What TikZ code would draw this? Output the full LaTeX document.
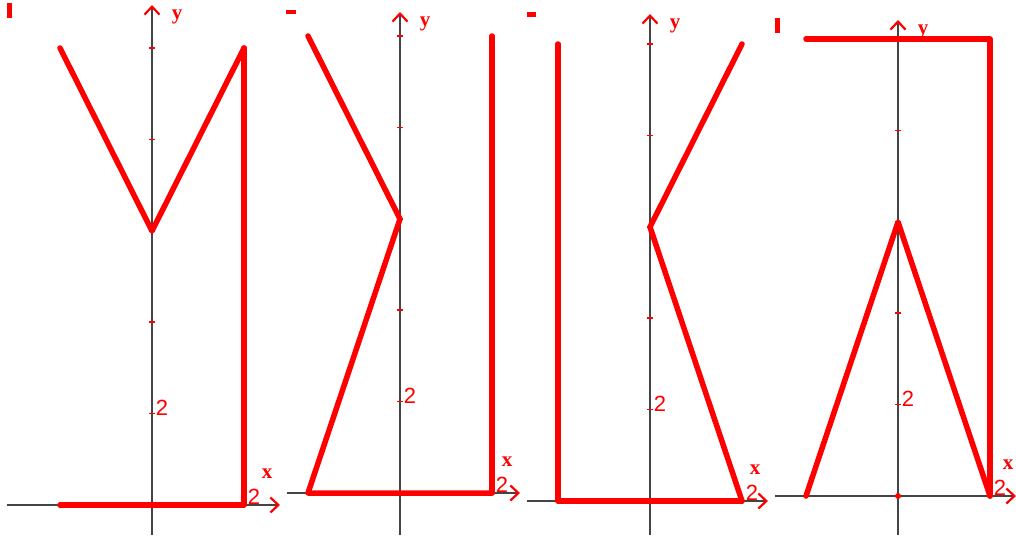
\documentclass[tikz,border=0pt]{standalone}
\usepackage{fontspec}
\setmainfont{Liberation Sans}
\newfontfamily\axfont{Liberation Serif}
\usetikzlibrary{arrows.meta,calc}
\definecolor{axisgray}{HTML}{444444}
\definecolor{plotred}{HTML}{FF0000}
\tikzset{
  axisline/.style={draw=axisgray, line width=1.8pt,
    -{Straight Barb[length=8pt,width=15pt,line width=2.2pt,color=plotred]}},
  tickmark/.style={draw=plotred, line width=1.5pt},
  redshape/.style={draw=plotred, line width=5.5pt, line join=round, line cap=round},
  axlabel/.style={text=plotred, font=\axfont\bfseries\fontsize{21}{21}\selectfont, inner sep=0pt},
  numlabel/.style={text=plotred, font=\fontsize{22}{22}\selectfont, inner sep=0pt},
  markbox/.style={fill=plotred, draw=none}
}
% #1 prefix, #2 ox, #3 oy, #4 x-axis left end, #5 x-axis tip, #6 y-axis tip, #7 xlabel dx
\newcommand\mkaxes[7]{%
  \coordinate (#1o) at (#2,#3);
  \coordinate (#1xl) at (#4,#3);
  \coordinate (#1xr) at (#5,#3);
  \coordinate (#1yb) at (#2,535);
  \coordinate (#1yt) at (#2,#6);
  \draw[axisline] (#1xl) -- (#1xr);
  \draw[axisline] (#1yb) -- (#1yt);
  \foreach \k in {1,...,5} {\draw[tickmark] ($(#1o)+(-3,-91.4*\k)$) -- ++(6,0);}
  \node[axlabel] (#1ylab) at ($(#1yt)+(25,12)$) {y};
  \node[axlabel] (#1xlab) at ($(#1o)+(#7,-31)$) {x};
  \node[numlabel] (#1ytick) at ($(#1o)+(10,-97)$) {2};
  \node[numlabel] (#1xtick) at ($(#1o)+(102,-8)$) {2};
  \coordinate (#1L0) at ($(#1o)+(-92,0)$);
  \coordinate (#1R0) at ($(#1o)+(92,0)$);
  \coordinate (#1V) at ($(#1o)+(0,-274)$);
  \coordinate (#1LT) at ($(#1o)+(-92,-457)$);
  \coordinate (#1RT) at ($(#1o)+(92,-457)$);
}
\begin{document}
\begin{tikzpicture}[x=1pt,y=-1pt]
\useasboundingbox (0,0) rectangle (1016,535);
\fill[white] (0,0) rectangle (1016,535);

% panel 1
\mkaxes{a}{152}{505}{7}{280}{5}{115}
\fill[markbox] (7,3) rectangle (12,18);
\draw[redshape] (aL0) -- (aR0) -- (aRT);
\draw[redshape] (aLT) -- (aV) -- (aRT);

% panel 2
\mkaxes{b}{400}{493}{287}{520}{12}{107}
\fill[markbox] (286,10) rectangle (296,14);
\draw[redshape] (bR0) -- (bRT);
\draw[redshape] (bLT) -- (bV) -- (bL0) -- (bR0);

% panel 3
\mkaxes{c}{650}{501}{527}{768}{14}{105}
\fill[markbox] (527,12) rectangle (536,17);
\draw[redshape] (cLT) -- (cL0) -- (cR0);
\draw[redshape] (cRT) -- (cV) -- (cR0);

% panel 4
\mkaxes{d}{898}{496}{775}{1016}{20}{110}
\fill[markbox] (775,18) rectangle (780,33);
\fill[plotred] (do) circle (3pt);
\draw[redshape] (dLT) -- (dRT) -- (dR0);
\draw[redshape] (dL0) -- (dV) -- (dR0);
\end{tikzpicture}
\end{document}
